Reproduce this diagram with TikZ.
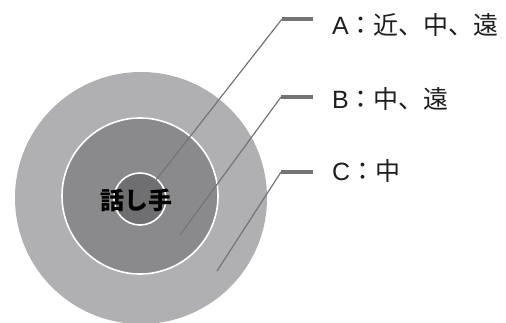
\documentclass[tikz,border=0pt]{standalone}
\usepackage{fontspec}
\newfontfamily\jpfont{Noto Sans CJK JP}
\newfontfamily\latfont{Liberation Sans}
\usepackage{tikz}
\usetikzlibrary{positioning}

\definecolor{ringC}{HTML}{B0B0B2}
\definecolor{ringB}{HTML}{8A8A8C}
\definecolor{ringA}{HTML}{6F6F71}
\definecolor{leadgray}{HTML}{747476}
\definecolor{labink}{HTML}{1E1E1E}

\tikzset{
  ring/.style={circle, draw=white, line width=1.6pt, inner sep=0pt},
  leader/.style={draw=leadgray, line width=1.2pt},
  tickbar/.style={draw=leadgray, line width=3.2pt},
  lab/.style={font=\jpfont\fontsize{25}{25}\selectfont, text=labink,
    inner sep=0pt, anchor=west}
}

\begin{document}
\begin{tikzpicture}[x=1pt, y=-1pt]
  \useasboundingbox (0,0) rectangle (506,323);

  % Rings
  \node[circle, fill=ringC, inner sep=0pt, minimum size=252pt] (outer) at (141,198) {};
  \node[ring, fill=ringB, minimum size=156pt] (middle) at (140,196) {};
  \node[ring, fill=ringA, minimum size=52pt] (inner) at (140,199) {};

  % Leader lines
  \coordinate (a0) at (142,198);
  \coordinate (a1) at (282,19);
  \coordinate (a2) at (313,19);
  \coordinate (b0) at (180,235);
  \coordinate (b1) at (281,97);
  \coordinate (b2) at (313,97);
  \coordinate (c0) at (217,271);
  \coordinate (c1) at (281,172);
  \coordinate (c2) at (313,172);

  \foreach \p in {a, b, c} {
    \draw[leader] (\p0) -- (\p1);
    \draw[tickbar] (\p1) -- (\p2);
  }

  % Labels
  \node[lab, right=19pt of a2, yshift=-6pt] (labA) {{\latfont A}：近、中、遠};
  \node[lab, right=19pt of b2, yshift=-2pt] (labB) {{\latfont B}：中、遠};
  \node[lab, right=19pt of c2, yshift=1pt] (labC) {{\latfont C}：中};

  \node[font=\jpfont\bfseries\fontsize{24}{24}\selectfont, text=black,
    inner sep=0pt] (speaker) at (136,200) {話し手};
\end{tikzpicture}
\end{document}
